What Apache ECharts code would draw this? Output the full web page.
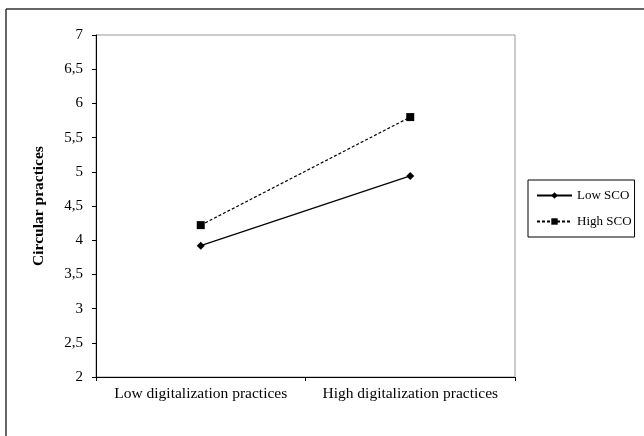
<!DOCTYPE html>
<html><head><meta charset="utf-8">
<script src="https://cdn.jsdelivr.net/npm/echarts@6/dist/echarts.min.js"></script>
<style>html,body{margin:0;padding:0;background:#fff}#c{width:644px;height:436px}</style>
</head><body><div id="c"></div>
<script>
const categories = ['Low digitalization practices', 'High digitalization practices'];
const lowSCO = [3.92, 4.94];
const highSCO = [4.22, 5.80];
const yTicks = ['2','2,5','3','3,5','4','4,5','5','5,5','6','6,5','7'];

const font = 'Liberation Serif';
const chart = echarts.init(document.getElementById('c'), null, {renderer: 'canvas'});
chart.setOption({
  animation: false,
  backgroundColor: '#fff',
  grid: {left: 96, top: 35, width: 419, height: 342, show: true, borderColor: '#999', borderWidth: 1, backgroundColor: 'transparent'},
  xAxis: {
    type: 'category', data: categories, boundaryGap: true,
    axisLine: {lineStyle: {color: '#000', width: 1}},
    axisTick: {show: true, length: 4, inside: false, interval: 0, lineStyle: {color: '#000'}},
    axisLabel: {color: '#000', fontFamily: font, fontSize: 15.5, margin: 9, interval: 0, hideOverlap: false},
    splitLine: {show: false}
  },
  yAxis: {
    type: 'value', min: 2, max: 7, interval: 0.5,
    name: 'Circular practices', nameLocation: 'middle', nameGap: 49, nameRotate: 90,
    nameTextStyle: {color: '#000', fontFamily: font, fontSize: 15.5, fontWeight: 'bold'},
    axisLine: {show: true, lineStyle: {color: '#000', width: 1}},
    axisTick: {show: true, length: 4, lineStyle: {color: '#000'}},
    axisLabel: {color: '#000', fontFamily: font, fontSize: 15, margin: 13,
      formatter: v => yTicks[Math.round((v - 2) / 0.5)]},
    splitLine: {show: false}
  },
  legend: {
    orient: 'vertical', left: 528, top: 180,
    borderColor: '#000', borderWidth: 1, padding: [9, 3, 9, 8], itemGap: 13,
    itemWidth: 35, itemHeight: 8,
    textStyle: {color: '#000', fontFamily: font, fontSize: 13},
    data: ['Low SCO', 'High SCO']
  },
  series: [
    {name: 'Low SCO', type: 'line', data: lowSCO, symbol: 'diamond', symbolSize: 8,
      lineStyle: {color: '#000', width: 1.2, type: 'solid'}, itemStyle: {color: '#000'}},
    {name: 'High SCO', type: 'line', data: highSCO, symbol: 'rect', symbolSize: 8,
      lineStyle: {color: '#000', width: 1.2, type: [3, 2]}, itemStyle: {color: '#000'}}
  ],
  graphic: [
    {type: 'line', shape: {x1: 6, y1: 9, x2: 644, y2: 9}, style: {stroke: '#333', lineWidth: 1.5}},
    {type: 'line', shape: {x1: 6, y1: 9, x2: 6, y2: 436}, style: {stroke: '#333', lineWidth: 1.5}}
  ]
});
</script></body></html>
